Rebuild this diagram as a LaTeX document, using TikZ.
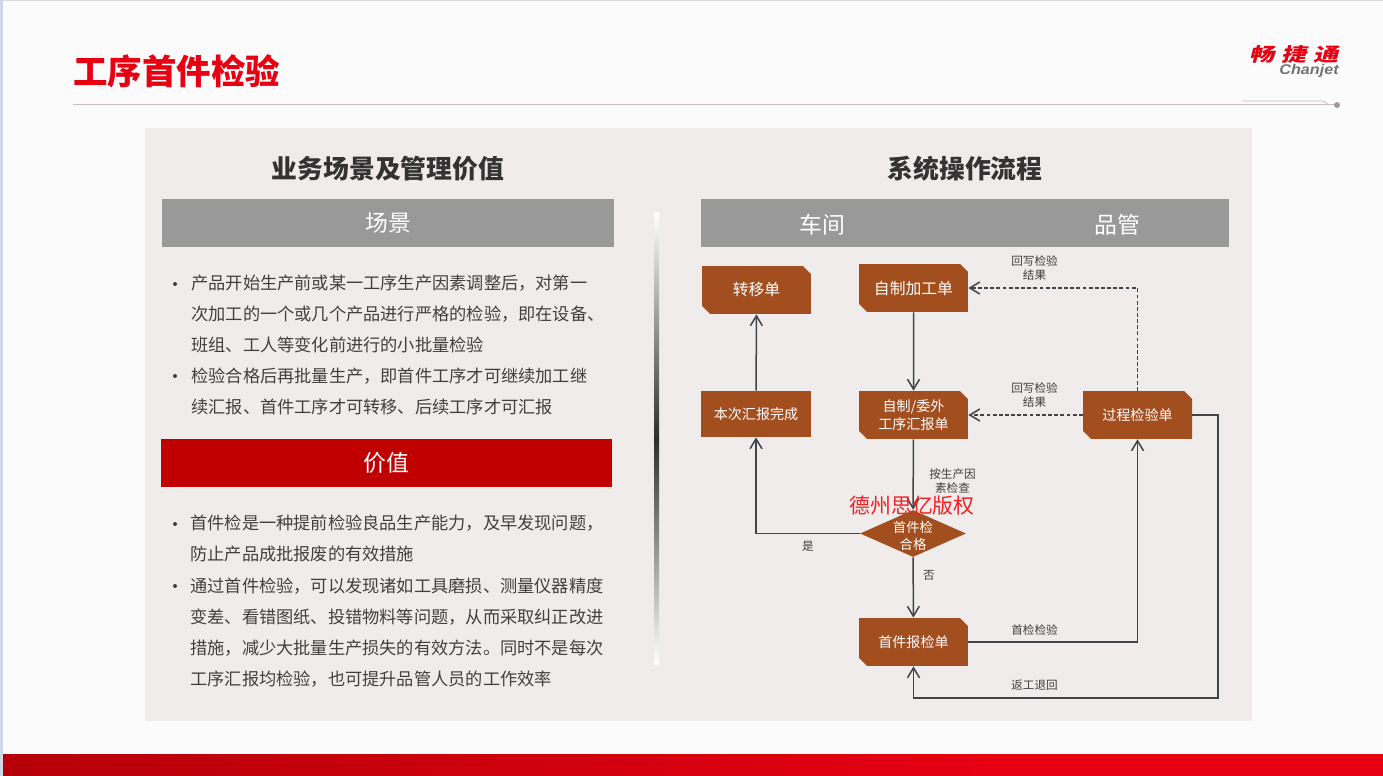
\documentclass[tikz,border=0pt]{standalone}
\usepackage{fontspec}
\setmainfont{Noto Sans CJK SC}
\newfontfamily\logofont[FakeSlant=0.25,FakeStretch=1.35]{Noto Sans CJK SC}
\newfontfamily\enlogofont[FakeStretch=1.15]{Liberation Sans}
\usetikzlibrary{shapes.geometric,shapes.misc,arrows.meta}
\definecolor{pagebg}{HTML}{FBFBFB}
\definecolor{panelbg}{HTML}{F0ECEB}
\definecolor{headgray}{HTML}{999999}
\definecolor{darkred}{HTML}{C00000}
\definecolor{brandred}{HTML}{E60012}
\definecolor{brandleft}{HTML}{B5000A}
\definecolor{rustbox}{HTML}{A34E1E}
\definecolor{linegray}{HTML}{404347}
\definecolor{rulegray}{HTML}{C9BDC0}
\definecolor{bodytext}{HTML}{404040}
\definecolor{stripeblue}{HTML}{CFD8E6}
\definecolor{markred}{HTML}{EE2222}
\tikzset{
  docbox/.style={chamfered rectangle, chamfered rectangle corners={north east,south west},
    chamfered rectangle xsep=0.08cm, chamfered rectangle ysep=0.08cm, fill=rustbox, text=white,
    minimum width=2.18cm, minimum height=0.96cm, inner sep=0pt, align=center, font=\fontsize{9}{10.5}\selectfont},
  plainbox/.style={rectangle, fill=rustbox, text=white, minimum width=2.2cm, minimum height=0.92cm,
    inner sep=0pt, font=\fontsize{8}{10}\selectfont},
  checkbox/.style={diamond, fill=rustbox, text=white, minimum width=2.12cm, minimum height=0.94cm, inner sep=0pt,
    aspect=2.25, font=\fontsize{7.6}{9.4}\selectfont},
  flowline/.style={draw=linegray, line width=0.03cm, -{Straight Barb[length=0.2cm,width=0.24cm,line width=0.03cm]}},
  backline/.style={flowline, dash pattern=on 2.2pt off 1.3pt},
  flowlabel/.style={text=bodytext, align=center, inner sep=0pt, font=\fontsize{6.6}{7.6}\selectfont},
  bodyline/.style={anchor=west, text=bodytext, inner sep=0pt, font=\fontsize{9.8}{12}\selectfont},
  bullet/.style={circle, fill=bodytext, minimum size=0.08cm, inner sep=0pt},
  bandhead/.style={fill=headgray, text=white, minimum height=0.96cm, inner sep=0pt, font=\fontsize{13}{15}\selectfont},
  sectiontitle/.style={text=black!80, inner sep=0pt, font=\fontsize{14.7}{17}\selectfont\bfseries}
}
\begin{document}
\begin{tikzpicture}[x=0.02cm,y=-0.02cm]
\useasboundingbox (0,0) rectangle (1383,776);
% page
\fill[pagebg] (0,0) rectangle (1383,776);
\fill[black!15] (0,0) rectangle (1383,1);
\fill[stripeblue] (0,0) rectangle (3,776);
\shade[left color=brandleft, right color=brandred, shading=axis, shading angle=90] (3,754) rectangle (1000,776);
\fill[brandred] (1000,754) rectangle (1383,776);
% title and logo
\node[anchor=west, inner sep=0pt, text=brandred, font=\fontsize{19.6}{22}\selectfont\bfseries] (pagetitle) at (73,71) {工序首件检验};
\node[inner sep=0pt, text=brandred, font=\fontsize{10.6}{12}\logofont\bfseries] (logocn) at (1294,54.5) {畅\hspace{0.14cm}捷\hspace{0.14cm}通};
\node[inner sep=0pt, text=black!55, font=\fontsize{8}{9}\enlogofont\itshape\bfseries] (logoen) at (1309,71) {Chanjet};
\draw[rulegray, line width=0.02cm] (73,105) -- (1337,105);
\draw[rulegray, line width=0.015cm] (1242,101) -- (1323,101) -- (1329,105);
\fill[rulegray!80!black] (1337,105) circle (0.06cm);
% panel
\fill[panelbg] (145,128) rectangle (1252,721);
\node[sectiontitle] (lefttitle) at (388,169) {业务场景及管理价值};
\node[sectiontitle] (righttitle) at (965,169) {系统操作流程};
\node[bandhead, minimum width=9.04cm] (scenehead) at (388,223) {场景};
\node[bandhead, fill=darkred, minimum width=9.02cm] (valuehead) at (386.5,463) {价值};
\fill[headgray] (701,199) rectangle (1229,247);
\node[text=white, inner sep=0pt, font=\fontsize{13}{15}\selectfont] (workshop) at (822,225) {车间};
\node[text=white, inner sep=0pt, font=\fontsize{13}{15}\selectfont] (quality) at (1117,225) {品管};
% divider
\shade[top color=white, bottom color=black!82, shading=axis] (654,213) rectangle (659,438);
\shade[top color=black!82, bottom color=white, shading=axis] (654,438) rectangle (659,664);
% left text
\node[bullet] (dota) at (175,284) {};
\node[bullet] (dotb) at (175,376) {};
\node[bullet] (dotc) at (175,524) {};
\node[bullet] (dotd) at (175,586) {};
\node[bodyline] (linea) at (191,283) {产品开始生产前或某一工序生产因素调整后，对第一};
\node[bodyline] (lineb) at (191,314) {次加工的一个或几个产品进行严格的检验，即在设备、};
\node[bodyline] (linec) at (191,345) {班组、工人等变化前进行的小批量检验};
\node[bodyline] (lined) at (191,376) {检验合格后再批量生产，即首件工序才可继续加工继};
\node[bodyline] (linee) at (191,407) {续汇报、首件工序才可转移、后续工序才可汇报};
\node[bodyline] (linef) at (190,523) {首件检是一种提前检验良品生产能力，及早发现问题，};
\node[bodyline] (lineg) at (190,554) {防止产品成批报废的有效措施};
\node[bodyline] (lineh) at (190,586) {通过首件检验，可以发现诸如工具磨损、测量仪器精度};
\node[bodyline] (linei) at (190,617) {变差、看错图纸、投错物料等问题，从而采取纠正改进};
\node[bodyline] (linej) at (190,648) {措施，减少大批量生产损失的有效方法。同时不是每次};
\node[bodyline] (linek) at (190,679) {工序汇报均检验，也可提升品管人员的工作效率};
% flow nodes
\node[docbox] (transfer) at (756.5,290) {转移单};
\node[docbox] (makeorder) at (913.5,288) {自制加工单};
\node[plainbox] (reportdone) at (756,414) {本次汇报完成};
\node[docbox, font=\fontsize{8}{10}\selectfont] (jobreport) at (913.5,415) {自制/委外\\工序汇报单};
\node[docbox, font=\fontsize{8}{10}\selectfont] (processcheck) at (1137.5,415) {过程检验单};
\node[checkbox] (firstpass) at (913,533.5) {\raisebox{-0.32cm}[0pt][0pt]{\begin{tabular}[b]{@{}c@{}}首件检\\合格\end{tabular}}};
\node[docbox, font=\fontsize{8}{10}\selectfont] (firstcheck) at (913.5,642) {首件报检单};
\coordinate (returncorner) at (1218,698);
% connectors
\draw[flowline] (makeorder) -- (jobreport);
\draw[flowline] (jobreport) -- (firstpass);
\draw[flowline] (firstpass.west) -| (reportdone.south);
\draw[flowline] (reportdone) -- (transfer);
\draw[flowline] (firstpass) -- (firstcheck);
\draw[flowline] (firstcheck.east) -| (processcheck.south);
\draw[flowline] (processcheck.east) -| (returncorner) -| (firstcheck.south);
\draw[backline] (processcheck.north) |- (makeorder.east);
\draw[backline] (processcheck.west) -- (jobreport.east);
% connector labels
\node[flowlabel] (resulta) at (1034.5,268) {回写检验\\结果};
\node[flowlabel] (resultb) at (1034.5,395) {回写检验\\结果};
\node[flowlabel] (byfactor) at (952.5,481) {按生产因\\素检查};
\node[flowlabel] (yeslabel) at (808,546) {是};
\node[flowlabel] (nolabel) at (929,575) {否};
\node[flowlabel] (firstlabel) at (1034.5,630) {首检检验};
\node[flowlabel] (returnlabel) at (1034.5,685) {返工退回};
\node[inner sep=0pt, text=markred, font=\fontsize{11.9}{14}\selectfont] (watermark) at (912,506) {德州思亿版权};
\end{tikzpicture}
\end{document}
